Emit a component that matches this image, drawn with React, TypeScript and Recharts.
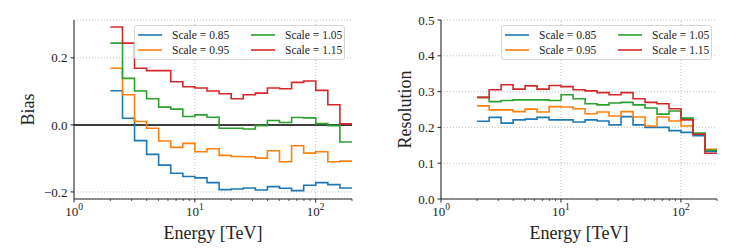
import { LineChart, Line, XAxis, YAxis, CartesianGrid, ReferenceLine, Label } from 'recharts';

// bin edges in TeV (20 log-spaced bins, 2 to 200 TeV)
const energyEdges = [2, 2.52, 3.17, 3.99, 5.02, 6.32, 7.96, 10.02, 12.62, 15.89, 20.0, 25.18, 31.7, 39.91, 50.24, 63.25, 79.62, 100.24, 126.19, 158.87, 200];

const scaleLabels = ['Scale = 0.85', 'Scale = 0.95', 'Scale = 1.05', 'Scale = 1.15'];

const bias085 = [0.102, 0.02, -0.047, -0.088, -0.12, -0.144, -0.154, -0.158, -0.172, -0.193, -0.191, -0.188, -0.194, -0.184, -0.189, -0.196, -0.18, -0.172, -0.178, -0.188];
const bias095 = [0.169, 0.09, 0.01, -0.01, -0.048, -0.067, -0.055, -0.08, -0.071, -0.091, -0.094, -0.095, -0.099, -0.077, -0.11, -0.062, -0.084, -0.08, -0.11, -0.108];
const bias105 = [0.244, 0.139, 0.101, 0.078, 0.053, 0.047, 0.025, 0.03, 0.023, -0.01, -0.01, -0.012, -0.002, 0.013, 0.007, 0.022, 0.021, 0.004, -0.002, -0.051];
const bias115 = [0.292, 0.244, 0.169, 0.162, 0.162, 0.129, 0.114, 0.11, 0.101, 0.093, 0.078, 0.09, 0.095, 0.11, 0.108, 0.127, 0.131, 0.103, 0.06, 0.003];

const res085 = [0.217, 0.228, 0.212, 0.221, 0.223, 0.228, 0.221, 0.221, 0.215, 0.221, 0.218, 0.207, 0.23, 0.207, 0.2, 0.2, 0.191, 0.186, 0.177, 0.133];
const res095 = [0.26, 0.249, 0.249, 0.244, 0.251, 0.243, 0.258, 0.257, 0.252, 0.238, 0.243, 0.232, 0.244, 0.229, 0.204, 0.229, 0.218, 0.204, 0.181, 0.139];
const res105 = [0.284, 0.272, 0.275, 0.277, 0.277, 0.277, 0.275, 0.291, 0.28, 0.266, 0.263, 0.268, 0.27, 0.263, 0.254, 0.237, 0.246, 0.226, 0.184, 0.136];
const res115 = [0.284, 0.305, 0.319, 0.307, 0.316, 0.307, 0.317, 0.314, 0.305, 0.302, 0.297, 0.291, 0.297, 0.28, 0.27, 0.266, 0.252, 0.221, 0.181, 0.128];

const biasTicks = [-0.2, 0, 0.2];
const resTicks = [0, 0.1, 0.2, 0.3, 0.4, 0.5];
const xTicks = [1, 2, 3, 4, 5, 6, 7, 8, 9, 10, 20, 30, 40, 50, 60, 70, 80, 90, 100, 200];

const FONT = '"Liberation Serif", "DejaVu Serif", serif';
const AXIS = '#262626';
const COLORS = ['#1f77b4', '#ff7f0e', '#2ca02c', '#d62728'];

// step rows: one row per edge, last edge repeats the last bin
function buildRows(series: number[][]) {
  return energyEdges.map((e, i) => {
    const row: Record<string, number> = { e };
    series.forEach((s, k) => {
      row['s' + k] = s[Math.min(i, s.length - 1)];
    });
    return row;
  });
}

const biasRows = buildRows([bias085, bias095, bias105, bias115]);
const resRows = buildRows([res085, res095, res105, res115]);

function LogTick(props: any) {
  const { x, y, payload } = props;
  const v = payload.value;
  const exp = Math.round(Math.log10(v));
  const major = Math.abs(Math.pow(10, exp) - v) < 1e-9;
  if (!major) {
    return <line x1={x} x2={x} y1={y} y2={y + 2} stroke={AXIS} strokeWidth={0.8} />;
  }
  return (
    <g>
      <line x1={x} x2={x} y1={y} y2={y + 3.5} stroke={AXIS} strokeWidth={1} />
      <text x={x} y={y + 17} textAnchor="middle" fontSize={13} fontFamily={FONT} fill="#222">
        10<tspan dy={-6} fontSize={9.5}>{exp}</tspan>
      </text>
    </g>
  );
}

function fmt(v: number) {
  return (v < 0 ? '\u2212' : '') + Math.abs(v).toFixed(1);
}

function LegendBox() {
  const item = (i: number, left: number, top: number) => (
    <div key={i} style={{ position: 'absolute', left, top, display: 'flex', alignItems: 'center', height: 14 }}>
      <svg width={25} height={14}>
        <line x1={0} x2={24} y1={7} y2={7} stroke={COLORS[i]} strokeWidth={1.6} />
      </svg>
      <span style={{ marginLeft: 9, fontSize: 11.5, fontFamily: FONT, color: '#222', whiteSpace: 'nowrap' }}>
        {scaleLabels[i]}
      </span>
    </div>
  );
  return (
    <div
      style={{
        position: 'absolute',
        left: 134,
        top: 25,
        width: 211,
        height: 35,
        boxSizing: 'border-box',
        background: 'rgba(255,255,255,0.8)',
        border: '1px solid #d6d6d6',
        borderRadius: 3,
      }}
    >
      {item(0, 3, 2)}
      {item(1, 3, 17)}
      {item(2, 116, 2)}
      {item(3, 116, 17)}
    </div>
  );
}

interface PanelProps {
  left: number;
  rows: Record<string, number>[];
  yDomain: [number, number];
  yTicks: number[];
  yLabel: string;
  yLabelX: number;
  marginRight: number;
  zeroLine?: boolean;
}

function Panel({ left, rows, yDomain, yTicks, yLabel, yLabelX, marginRight, zeroLine }: PanelProps) {
  return (
    <div style={{ position: 'absolute', left, top: 0, width: 360, height: 249 }}>
      <LineChart width={360} height={249} data={rows} margin={{ top: 20, right: marginRight, left: 0, bottom: 0 }}>
        <CartesianGrid vertical={false} stroke="#b0b0b0" strokeDasharray="1 2" strokeWidth={0.8} />
        <XAxis
          dataKey="e"
          type="number"
          scale="log"
          domain={[1, 200]}
          allowDataOverflow
          ticks={xTicks}
          interval={0}
          tick={<LogTick />}
          tickLine={false}
          tickSize={0}
          tickMargin={0}
          axisLine={{ stroke: AXIS, strokeWidth: 1.1 }}
          height={50}
        >
          <Label value="Energy [TeV]" position="insideBottom" offset={10} fontSize={18} fontFamily={FONT} fill="#222" />
        </XAxis>
        <XAxis xAxisId="top" orientation="top" type="number" domain={[1, 200]} height={0} tick={false} tickLine={false} axisLine={{ stroke: AXIS, strokeWidth: 1.1 }} />
        <YAxis
          type="number"
          domain={yDomain}
          allowDataOverflow
          ticks={yTicks}
          interval={0}
          tickFormatter={fmt}
          tick={{ fontSize: 13, fill: '#222', fontFamily: FONT }}
          tickSize={3.5}
          tickMargin={3}
          tickLine={{ stroke: AXIS }}
          axisLine={{ stroke: AXIS, strokeWidth: 1.1 }}
          width={74}
        >
          <Label
            content={() => (
              <text
                x={yLabelX}
                y={109.5}
                transform={`rotate(-90 ${yLabelX} 109.5)`}
                textAnchor="middle"
                dominantBaseline="central"
                fontSize={18}
                fontFamily={FONT}
                fill="#222"
              >
                {yLabel}
              </text>
            )}
          />
        </YAxis>
        <YAxis yAxisId="right" orientation="right" type="number" domain={yDomain} width={0} tick={false} tickLine={false} axisLine={{ stroke: AXIS, strokeWidth: 1.1 }} />
        <ReferenceLine x={10} stroke="#b0b0b0" strokeDasharray="1 2" strokeWidth={0.8} />
        <ReferenceLine x={100} stroke="#b0b0b0" strokeDasharray="1 2" strokeWidth={0.8} />
        {zeroLine && <ReferenceLine y={0} stroke="#000" strokeWidth={1.5} />}
        {[0, 1, 2, 3].map((k) => (
          <Line
            key={k}
            type="stepAfter"
            dataKey={'s' + k}
            stroke={COLORS[k]}
            strokeWidth={1.6}
            dot={false}
            activeDot={false}
            isAnimationActive={false}
          />
        ))}
      </LineChart>
      <LegendBox />
    </div>
  );
}

export default function App() {
  return (
    <div style={{ position: 'absolute', left: 0, top: 0, width: 747, height: 249, background: '#fff', overflow: 'hidden' }}>
      <Panel left={0} rows={biasRows} yDomain={[-0.221, 0.313]} yTicks={biasTicks} yLabel="Bias" yLabelX={28} marginRight={8} zeroLine />
      <Panel left={367} rows={resRows} yDomain={[0, 0.5]} yTicks={resTicks} yLabel="Resolution" yLabelX={38} marginRight={10} />
    </div>
  );
}
